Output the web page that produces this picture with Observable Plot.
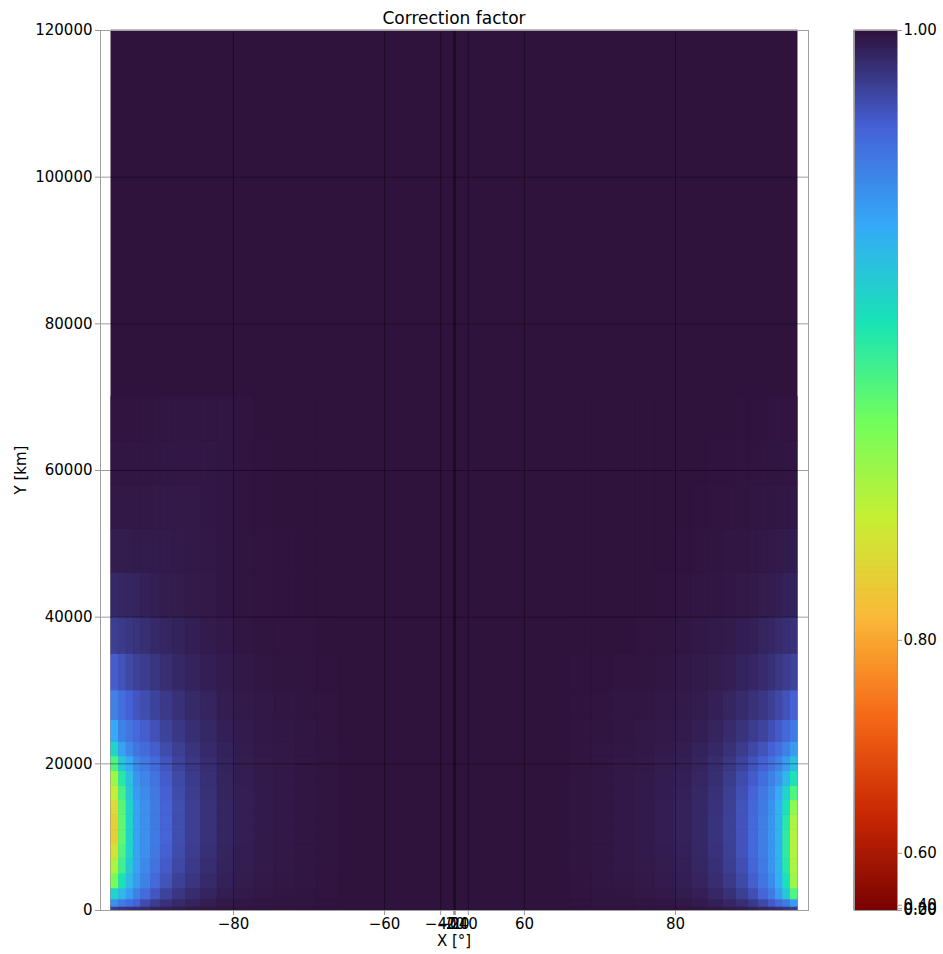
<!DOCTYPE html>
<html><head><meta charset="utf-8">
<script src="https://cdn.jsdelivr.net/npm/d3@7"></script>
<script src="https://cdn.jsdelivr.net/npm/@observablehq/plot@0.6"></script>
<style>
body{margin:0;background:#fff;font-family:"DejaVu Sans",sans-serif;}
#wrap{position:relative;width:943px;height:954px;overflow:hidden;background:#fff;}
#main{position:absolute;left:0;top:0;}
#cbar{position:absolute;left:830px;top:0;}
.lbl{position:absolute;color:#000;white-space:nowrap;font-family:"DejaVu Sans",sans-serif;}
#title{left:454px;top:8px;transform:translateX(-50%);font-size:17px;}
#xlabel{left:454px;top:932px;transform:translateX(-50%);font-size:15px;}
#ylabel{left:21px;top:470px;transform:translate(-50%,-50%) rotate(-90deg);font-size:15px;}
</style></head><body>
<div id="wrap">
  <div id="main"></div>
  <div id="cbar"></div>
  <div class="lbl" id="title">Correction factor</div>
  <div class="lbl" id="xlabel">X [°]</div>
  <div class="lbl" id="ylabel">Y [km]</div>
</div>
<script>
// ---- data ----
const yEdges = [0, 500, 1500, 3000, 5000, 7000, 9000, 11000, 13000, 15000, 17000, 19000, 21000, 23000, 26000, 30000, 35000, 40000, 46000, 52000, 58000, 64000, 70000];
const leftEdges = [-89.3, -88.8, -88.3, -87.8, -87.3, -86.6, -85.9, -85.0, -84.0, -82.8, -81.4, -79.8, -78.0, -76.0, -73.6, -71.0, -68.0];
const rightEdges = [89.3, 88.8, 88.3, 87.8, 87.3, 86.6, 85.9, 85.0, 84.0, 82.8, 81.4, 79.8, 78.0, 76.0, 73.6, 71.0, 68.0];
// rows from bottom (0 km) upward; columns from the outer edge inward
const leftValues = [
  [0.9827, 0.9856, 0.9870, 0.9885, 0.9899, 0.9928, 0.9942, 0.9957, 0.9968, 0.9977, 0.9986, 0.9988, 0.9991, 0.9991, 0.9994, 0.9994],
  [0.9481, 0.9567, 0.9625, 0.9683, 0.9769, 0.9827, 0.9870, 0.9905, 0.9931, 0.9954, 0.9971, 0.9980, 0.9986, 0.9988, 0.9991, 0.9994],
  [0.9134, 0.9279, 0.9423, 0.9538, 0.9639, 0.9726, 0.9798, 0.9856, 0.9896, 0.9928, 0.9954, 0.9968, 0.9977, 0.9983, 0.9988, 0.9991],
  [0.8701, 0.9048, 0.9279, 0.9423, 0.9538, 0.9654, 0.9740, 0.9812, 0.9861, 0.9905, 0.9939, 0.9960, 0.9971, 0.9980, 0.9986, 0.9991],
  [0.8499, 0.8903, 0.9192, 0.9394, 0.9509, 0.9610, 0.9711, 0.9784, 0.9841, 0.9890, 0.9931, 0.9954, 0.9968, 0.9977, 0.9983, 0.9988],
  [0.8326, 0.8846, 0.9134, 0.9394, 0.9481, 0.9582, 0.9688, 0.9769, 0.9827, 0.9879, 0.9925, 0.9951, 0.9965, 0.9977, 0.9983, 0.9988],
  [0.8211, 0.8788, 0.9134, 0.9394, 0.9481, 0.9567, 0.9677, 0.9760, 0.9821, 0.9873, 0.9922, 0.9948, 0.9965, 0.9974, 0.9983, 0.9988],
  [0.8211, 0.8788, 0.9134, 0.9394, 0.9481, 0.9567, 0.9677, 0.9760, 0.9821, 0.9873, 0.9922, 0.9948, 0.9965, 0.9974, 0.9983, 0.9988],
  [0.8268, 0.8817, 0.9134, 0.9394, 0.9481, 0.9567, 0.9677, 0.9760, 0.9821, 0.9873, 0.9922, 0.9948, 0.9965, 0.9974, 0.9983, 0.9988],
  [0.8413, 0.8874, 0.9192, 0.9423, 0.9495, 0.9582, 0.9688, 0.9769, 0.9827, 0.9876, 0.9925, 0.9948, 0.9965, 0.9974, 0.9983, 0.9988],
  [0.8557, 0.8990, 0.9250, 0.9452, 0.9524, 0.9605, 0.9706, 0.9781, 0.9835, 0.9882, 0.9928, 0.9951, 0.9965, 0.9974, 0.9983, 0.9988],
  [0.8846, 0.9192, 0.9365, 0.9509, 0.9567, 0.9639, 0.9729, 0.9798, 0.9847, 0.9890, 0.9931, 0.9954, 0.9968, 0.9977, 0.9983, 0.9988],
  [0.9134, 0.9394, 0.9509, 0.9596, 0.9639, 0.9697, 0.9769, 0.9821, 0.9864, 0.9902, 0.9937, 0.9957, 0.9971, 0.9977, 0.9986, 0.9988],
  [0.9365, 0.9538, 0.9596, 0.9654, 0.9697, 0.9746, 0.9804, 0.9847, 0.9885, 0.9913, 0.9945, 0.9962, 0.9974, 0.9980, 0.9986, 0.9991],
  [0.9538, 0.9625, 0.9683, 0.9726, 0.9760, 0.9804, 0.9841, 0.9876, 0.9905, 0.9928, 0.9954, 0.9968, 0.9977, 0.9983, 0.9988, 0.9991],
  [0.9700, 0.9740, 0.9780, 0.9806, 0.9828, 0.9860, 0.9888, 0.9910, 0.9930, 0.9946, 0.9963, 0.9975, 0.9984, 0.9987, 0.9991, 0.9994],
  [0.9824, 0.9835, 0.9854, 0.9869, 0.9886, 0.9906, 0.9924, 0.9937, 0.9949, 0.9962, 0.9972, 0.9982, 0.9987, 0.9990, 0.9992, 0.9995],
  [0.9909, 0.9919, 0.9923, 0.9929, 0.9939, 0.9947, 0.9956, 0.9961, 0.9968, 0.9973, 0.9982, 0.9988, 0.9992, 0.9994, 0.9996, 0.9996],
  [0.9959, 0.9959, 0.9961, 0.9964, 0.9964, 0.9964, 0.9964, 0.9968, 0.9972, 0.9975, 0.9982, 0.9988, 0.9992, 0.9994, 0.9996, 0.9996],
  [0.9975, 0.9975, 0.9975, 0.9975, 0.9975, 0.9973, 0.9972, 0.9972, 0.9973, 0.9978, 0.9984, 0.9990, 0.9994, 0.9996, 0.9996, 0.9996],
  [0.9984, 0.9984, 0.9984, 0.9984, 0.9984, 0.9982, 0.9980, 0.9978, 0.9978, 0.9980, 0.9984, 0.9990, 0.9994, 0.9996, 0.9996, 0.9996],
  [0.9990, 0.9990, 0.9990, 0.9990, 0.9990, 0.9988, 0.9986, 0.9984, 0.9982, 0.9982, 0.9986, 0.9992, 0.9996, 0.9996, 0.9996, 0.9996]
];
const rightValues = [
  [0.9827, 0.9856, 0.9885, 0.9899, 0.9913, 0.9937, 0.9951, 0.9965, 0.9977, 0.9983, 0.9988, 0.9991, 0.9991, 0.9994, 0.9994, 0.9994],
  [0.9423, 0.9567, 0.9654, 0.9711, 0.9784, 0.9841, 0.9885, 0.9919, 0.9945, 0.9962, 0.9974, 0.9983, 0.9986, 0.9988, 0.9991, 0.9994],
  [0.8846, 0.9192, 0.9423, 0.9567, 0.9668, 0.9755, 0.9821, 0.9876, 0.9913, 0.9942, 0.9960, 0.9971, 0.9977, 0.9983, 0.9988, 0.9991],
  [0.8557, 0.9048, 0.9336, 0.9495, 0.9596, 0.9697, 0.9775, 0.9841, 0.9890, 0.9928, 0.9948, 0.9962, 0.9971, 0.9980, 0.9986, 0.9991],
  [0.8499, 0.8990, 0.9307, 0.9452, 0.9567, 0.9668, 0.9755, 0.9824, 0.9879, 0.9919, 0.9942, 0.9960, 0.9968, 0.9977, 0.9983, 0.9988],
  [0.8470, 0.8961, 0.9307, 0.9452, 0.9553, 0.9654, 0.9740, 0.9812, 0.9870, 0.9913, 0.9939, 0.9957, 0.9965, 0.9974, 0.9983, 0.9988],
  [0.8470, 0.8961, 0.9307, 0.9452, 0.9553, 0.9654, 0.9734, 0.9810, 0.9867, 0.9911, 0.9937, 0.9954, 0.9965, 0.9974, 0.9983, 0.9988],
  [0.8499, 0.8990, 0.9307, 0.9452, 0.9553, 0.9654, 0.9734, 0.9810, 0.9867, 0.9911, 0.9937, 0.9954, 0.9965, 0.9974, 0.9983, 0.9988],
  [0.8615, 0.9048, 0.9322, 0.9466, 0.9567, 0.9659, 0.9740, 0.9812, 0.9870, 0.9911, 0.9937, 0.9954, 0.9965, 0.9974, 0.9983, 0.9988],
  [0.8846, 0.9134, 0.9365, 0.9495, 0.9582, 0.9674, 0.9752, 0.9821, 0.9876, 0.9913, 0.9939, 0.9957, 0.9965, 0.9974, 0.9983, 0.9988],
  [0.9048, 0.9279, 0.9452, 0.9538, 0.9625, 0.9703, 0.9769, 0.9833, 0.9885, 0.9919, 0.9942, 0.9957, 0.9968, 0.9977, 0.9983, 0.9988],
  [0.9250, 0.9423, 0.9538, 0.9610, 0.9683, 0.9740, 0.9798, 0.9853, 0.9896, 0.9928, 0.9948, 0.9960, 0.9971, 0.9977, 0.9986, 0.9991],
  [0.9423, 0.9538, 0.9625, 0.9683, 0.9740, 0.9784, 0.9833, 0.9876, 0.9911, 0.9937, 0.9954, 0.9965, 0.9974, 0.9980, 0.9986, 0.9991],
  [0.9567, 0.9654, 0.9711, 0.9755, 0.9798, 0.9833, 0.9867, 0.9899, 0.9928, 0.9948, 0.9962, 0.9971, 0.9977, 0.9983, 0.9988, 0.9991],
  [0.9683, 0.9740, 0.9784, 0.9818, 0.9850, 0.9873, 0.9899, 0.9922, 0.9942, 0.9957, 0.9968, 0.9977, 0.9983, 0.9986, 0.9991, 0.9994],
  [0.9800, 0.9826, 0.9853, 0.9877, 0.9898, 0.9915, 0.9930, 0.9946, 0.9960, 0.9967, 0.9976, 0.9984, 0.9987, 0.9991, 0.9994, 0.9994],
  [0.9874, 0.9886, 0.9899, 0.9916, 0.9929, 0.9942, 0.9951, 0.9962, 0.9969, 0.9975, 0.9982, 0.9987, 0.9992, 0.9995, 0.9995, 0.9995],
  [0.9936, 0.9939, 0.9947, 0.9956, 0.9961, 0.9968, 0.9973, 0.9978, 0.9982, 0.9984, 0.9990, 0.9994, 0.9996, 0.9996, 0.9996, 0.9996],
  [0.9959, 0.9964, 0.9968, 0.9972, 0.9975, 0.9980, 0.9982, 0.9984, 0.9988, 0.9990, 0.9994, 0.9996, 0.9996, 0.9996, 0.9996, 0.9996],
  [0.9975, 0.9978, 0.9980, 0.9982, 0.9984, 0.9986, 0.9988, 0.9990, 0.9992, 0.9994, 0.9996, 0.9996, 0.9996, 0.9996, 0.9996, 0.9996],
  [0.9984, 0.9986, 0.9988, 0.9990, 0.9990, 0.9992, 0.9992, 0.9994, 0.9994, 0.9996, 0.9996, 0.9996, 0.9996, 0.9996, 0.9996, 0.9996],
  [0.9990, 0.9990, 0.9992, 0.9992, 0.9994, 0.9994, 0.9994, 0.9996, 0.9996, 0.9996, 0.9996, 0.9996, 0.9996, 0.9996, 0.9996, 0.9996]
];
const backgroundValue = 0.9996;
const dataXExtent = [-89.3, 89.3];
const dataYExtent = [0, 120000];
const xTicks = [-80, -60, -40, -20, 0, 20, 40, 60, 80];
const yTicks = [0, 20000, 40000, 60000, 80000, 100000, 120000];
const colorbarTicks = [0, 0.2, 0.4, 0.6, 0.8, 1];
// colour normalisation: factor value -> position along the (reversed) turbo ramp
const normDomain = [0, 0.2, 0.4, 0.6, 0.8, 1];
const normPosition = [1, 0.998, 0.994, 0.935, 0.693, 0];
const turboStops = ["#30123b","#4662d7","#36aaf9","#1ae4b6","#72fe5e","#c7ef34","#faba39","#f66b19","#cb2a04","#7a0403"];

// ---- build ----
const turbo = d3.piecewise(d3.interpolateRgb, turboStops);
const colorOpts = {type: "linear", domain: normDomain, range: normPosition, interpolate: turbo};

const cells = [{x1: dataXExtent[0], x2: dataXExtent[1], y1: dataYExtent[0], y2: dataYExtent[1], v: backgroundValue}];
function addSide(edges, values) {
  values.forEach((row, i) => row.forEach((v, j) => {
    cells.push({x1: edges[j], x2: edges[j + 1], y1: yEdges[i], y2: yEdges[i + 1], v});
  }));
}
addSide(leftEdges, leftValues);
addSide(rightEdges, rightValues);

const font = {fontFamily: "DejaVu Sans, sans-serif", fontSize: "15px", background: "transparent", overflow: "visible", color: "#000"};

const main = Plot.plot({
  width: 830, height: 954,
  marginLeft: 100, marginRight: 22, marginTop: 30, marginBottom: 44,
  style: font,
  x: {type: "pow", exponent: 4, domain: [-90, 90], label: null},
  y: {domain: [0, 120000], label: null},
  color: colorOpts,
  marks: [
    Plot.rect(cells, {x1: "x1", x2: "x2", y1: "y1", y2: "y2", fill: "v", stroke: "v", strokeWidth: 0.6}),
    Plot.gridX(xTicks, {stroke: "#000", strokeOpacity: 0.38, strokeWidth: 1}),
    Plot.gridY(yTicks, {stroke: "#000", strokeOpacity: 0.38, strokeWidth: 1}),
    Plot.frame({stroke: "#a0a0a0", strokeWidth: 1}),
    Plot.axisX(xTicks, {tickSize: 5, tickPadding: 3, stroke: "#999", fill: "#000", label: null, fontSize: 15}),
    Plot.axisY(yTicks, {tickSize: 5, tickPadding: 3, tickFormat: "d", stroke: "#999", fill: "#000", label: null, fontSize: 15})
  ]
});
document.getElementById("main").appendChild(main);

// colorbar
const posToValue = d3.scaleLinear().domain(normPosition).range(normDomain);
const nSlices = 880;
const slices = d3.range(nSlices).map(i => {
  const a = posToValue(i / nSlices), b = posToValue((i + 1) / nSlices);
  return {v1: a, v2: b, v: (a + b) / 2};
});
const cbar = Plot.plot({
  width: 113, height: 954,
  marginLeft: 24, marginRight: 46, marginTop: 30, marginBottom: 44,
  style: font,
  x: {domain: [0, 1], axis: null},
  y: {type: "linear", domain: normDomain, range: normPosition.map(t => 30 + 880 * t), label: null},
  color: colorOpts,
  marks: [
    Plot.rect(slices, {x1: 0, x2: 1, y1: "v1", y2: "v2", fill: "v", stroke: "v", strokeWidth: 0.6}),
    Plot.frame({stroke: "#999", strokeWidth: 1}),
    Plot.axisY(colorbarTicks, {anchor: "right", tickSize: 4, tickPadding: 2, tickFormat: ".2f", stroke: "#999", fill: "#000", label: null, fontSize: 15})
  ]
});
document.getElementById("cbar").appendChild(cbar);
</script>
</body></html>
